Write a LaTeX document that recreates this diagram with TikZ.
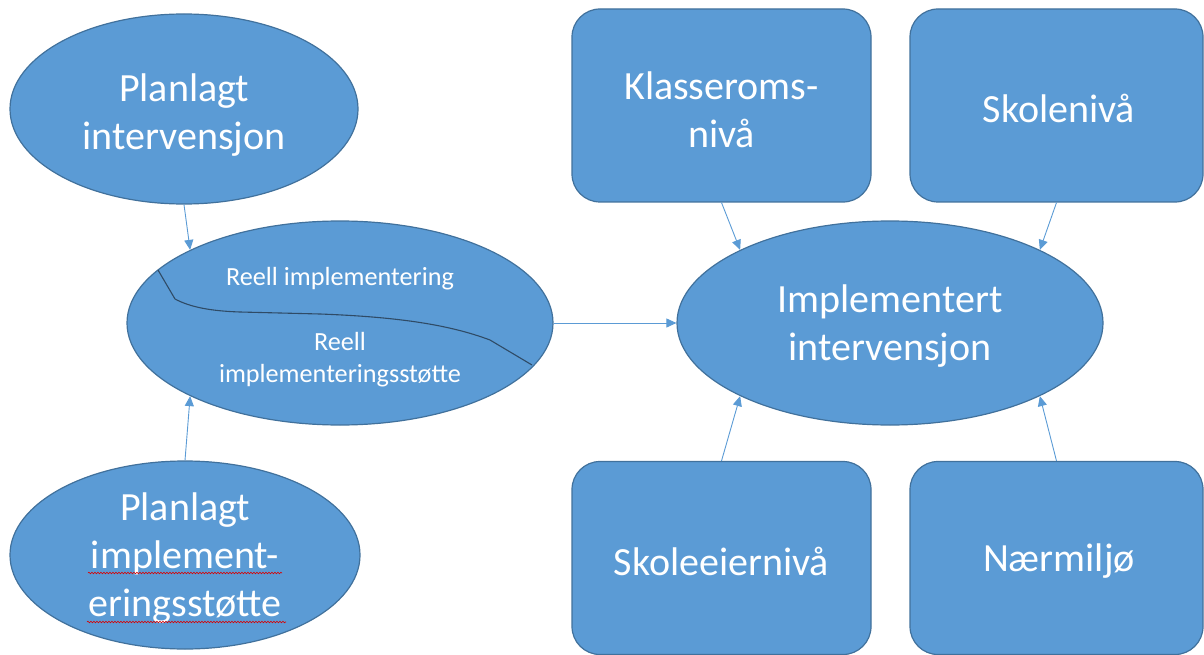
\documentclass[tikz,border=0pt]{standalone}
\usepackage{fontspec}
\setmainfont{Carlito}
\usetikzlibrary{shapes.geometric,arrows.meta,decorations.pathmorphing}
\definecolor{fillblue}{HTML}{5B9BD5}
\definecolor{edgeblue}{HTML}{41719C}
\definecolor{divline}{HTML}{2F4B66}
\begin{document}
\begin{tikzpicture}[x=1pt,y=-1pt,
  ell/.style={ellipse, draw=edgeblue, line width=1.2pt, fill=fillblue, inner sep=0pt},
  rbox/.style={rectangle, rounded corners=28pt, draw=edgeblue, line width=1.2pt, fill=fillblue,
    minimum width=299pt, minimum height=193pt, inner sep=0pt},
  bigtxt/.style={text=white, align=center, font=\fontsize{40}{48}\selectfont, inner sep=0pt},
  smalltxt/.style={text=white, align=center, font=\fontsize{26.2}{32}\selectfont, inner sep=0pt},
  arr/.style={draw=fillblue, line width=0.9pt, -{Triangle[length=10pt,width=9pt]}},
  squig/.style={draw=red!85!black, line width=0.6pt, decorate, decoration={snake, amplitude=0.8pt, segment length=3pt}},
  divider/.style={draw=divline, line width=1.1pt}]
\useasboundingbox (0,0) rectangle (1204,655);

% left column
\node[ell, minimum width=348pt, minimum height=190pt] (pi) at (184,109) {};
\node[bigtxt] (pit) at (184,115) {Planlagt\\intervensjon};

\node[ell, minimum width=426pt, minimum height=204pt] (ri) at (340,323) {};
\draw[divider] (158,270) -- (175,299) .. controls (190,307) and (210,311) .. (240,312)
  -- (320,314) .. controls (400,317) and (450,325) .. (490,340) -- (532,365);
\node[smalltxt] (rit) at (340,279) {Reell implementering};
\node[smalltxt] (ris) at (340,360) {Reell\\implementeringsstøtte};

\node[ell, minimum width=350pt, minimum height=188pt] (pii) at (185,555) {};
\node[bigtxt] (piit) at (185,558) {Planlagt\\implement-\\eringsstøtte};
\draw[squig] (88,573) -- (282,573);
\draw[squig] (87,622) -- (286,622);

% right part
\node[ell, minimum width=426pt, minimum height=204pt] (ii) at (890,323) {};
\node[bigtxt] (iit) at (890,326) {Implementert\\intervensjon};

\node[rbox] (kl) at (721.5,105.5) {};
\node[bigtxt] (klt) at (721.5,109.5) {Klasseroms-\\nivå};
\node[rbox, minimum width=293pt] (sk) at (1056.5,105.5) {};
\node[bigtxt] (skt) at (1059,108.5) {Skolenivå};
\node[rbox] (se) at (721.5,558) {};
\node[bigtxt] (set) at (721.5,561) {Skoleeiernivå};
\node[rbox, minimum width=293pt] (nm) at (1056.5,558) {};
\node[bigtxt] (nmt) at (1059,561) {Nærmiljø};

% connectors
\draw[arr] (pi.south) -- (ri.154);
\draw[arr] (pii.north) -- (ri.206);
\draw[arr] (ri.east) -- (ii.west);
\draw[arr] (kl.south) -- (ii.154);
\draw[arr] (sk.south) -- (ii.26);
\draw[arr] (se.north) -- (ii.206);
\draw[arr] (nm.north) -- (ii.334);
\end{tikzpicture}
\end{document}
